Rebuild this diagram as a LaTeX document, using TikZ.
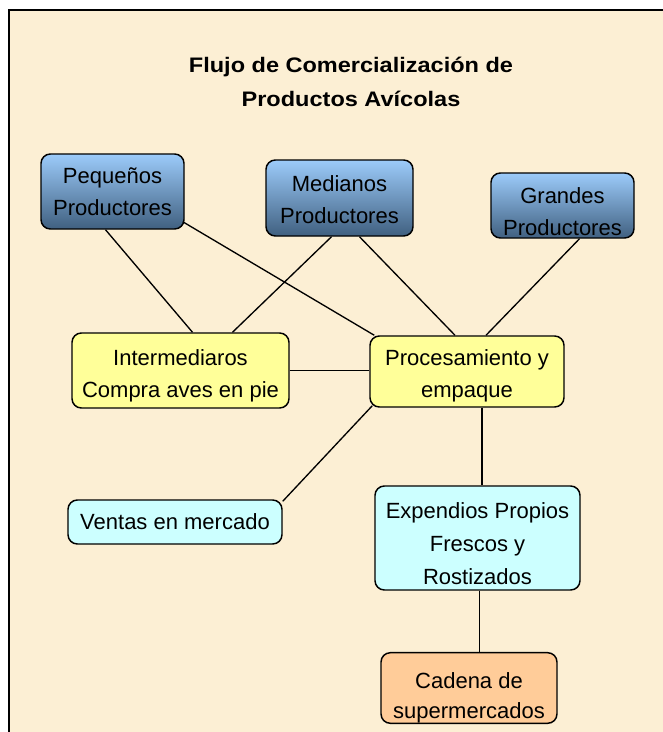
\documentclass[tikz,border=0pt]{standalone}
\usepackage{fontspec}
\setmainfont{Liberation Sans}
\newfontfamily\titlefont[FakeStretch=1.12]{Liberation Sans}
\usetikzlibrary{calc}

\definecolor{bgbeige}{RGB}{252,239,212}
\definecolor{boxyellow}{RGB}{255,255,153}
\definecolor{boxcyan}{RGB}{204,255,255}
\definecolor{boxorange}{RGB}{255,204,153}
\definecolor{bluetop}{RGB}{156,203,250}
\definecolor{bluebot}{RGB}{64,96,128}

\tikzset{every picture/.style={line width=0.75pt}}
\tikzset{
  box/.style={draw, rounded corners=7, line width=1.1pt, inner sep=0pt, align=center,
    font=\fontsize{16.5}{24}\selectfont},
  prodbox/.style={box, top color=bluetop, bottom color=bluebot},
  textlow/.style={text height=#1},
  link/.style={line width=1pt}
}

\begin{document}
\begin{tikzpicture}[x=0.75pt,y=0.75pt,yscale=-1,xscale=1]
\useasboundingbox (0,0) rectangle (663,732);

%Background
\fill[bgbeige] (9,10) rectangle (663,732);
\draw[line width=1.5pt] (9,732) -- (9,10) -- (663,10);

% Title
\node (title) at (351,82) [align=center, font=\titlefont\bfseries\fontsize{15.75}{26}\selectfont] {Flujo de Comercialización de\\Productos Avícolas};

% Productores
\node (peq) at (112.5,191.5) [prodbox, minimum width=107.25pt, minimum height=56.25pt] {Pequeños\\Productores};
\node (med) at (339.5,198) [prodbox, textlow=39pt, minimum width=110.25pt, minimum height=57pt] {Medianos\\Productores};
\node (gra) at (562.5,205.5) [prodbox, textlow=45pt, minimum width=107.25pt, minimum height=48.75pt] {Grandes\\Productores};

% Middle row
\node (inter) at (180.5,370.5) [box, textlow=44pt, fill=boxyellow, minimum width=162.75pt, minimum height=56.25pt] {Intermediaros\\Compra aves en pie};
\node (proc) at (467,371.5) [box, textlow=42pt, fill=boxyellow, minimum width=145.5pt, minimum height=53.25pt] {Procesamiento y\\empaque};

% Ventas
\node (ventas) at (175,522) [box, fill=boxcyan, minimum width=160.5pt, minimum height=33pt] {Ventas en mercado};
\node (exp) at (477.5,538) [box, textlow=70.5pt, fill=boxcyan, minimum width=153.75pt, minimum height=78pt] {Expendios Propios\\[0.75pt]Frescos y\\[0.75pt]Rostizados};
\node (cad) at (469,688) [box, textlow=49.5pt, fill=boxorange, minimum width=132pt, minimum height=51pt] {Cadena de\\[-1.5pt]supermercados};

% Connectors
\draw[link] ($(peq.south)+(-7,0)$) -- ($(inter.north)+(12,0)$);
\draw[link] ($(peq.south east)+(-2,-8)$) -- ($(proc.north west)+(5,0)$);
\draw[link] ($(med.south)+(-8,0)$) -- ($(inter.north)+(52,0)$);
\draw[link] ($(med.south)+(20,0)$) -- ($(proc.north)+(-12,0)$);
\draw[link] ($(gra.south)+(17,0)$) -- ($(proc.north)+(19,0)$);
\draw[link] (inter.east) -- (inter.east -| proc.west);
\draw[link] ($(proc.south west)+(3,-2)$) -- ($(ventas.north east)+(0,2)$);
\coordinate (procout) at ($(proc.south)+(15,0)$);
\draw[link] (procout) -- (procout |- exp.north);
\coordinate (expout) at ($(exp.south)+(2,0)$);
\draw[link] (expout) -- (expout |- cad.north);

\end{tikzpicture}
\end{document}
